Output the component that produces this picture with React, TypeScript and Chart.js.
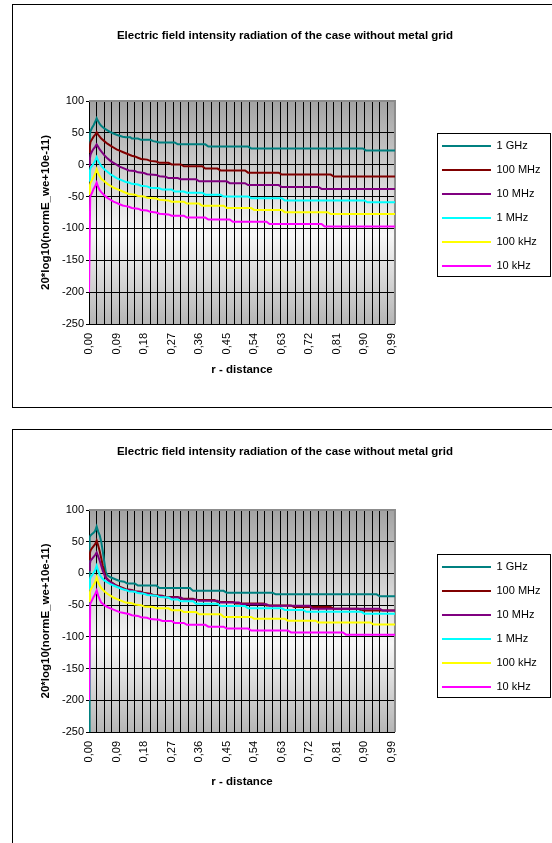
import React, { useEffect, useRef } from 'react';
import { Chart, registerables } from 'chart.js';

Chart.register(...registerables);

const FONT = '"Liberation Sans", Arial, Helvetica, sans-serif';

const chartTitle = 'Electric field intensity radiation of the case without metal grid';
const yTitle = '20*log10(normE_we+10e-11)';
const xTitle = 'r - distance';

const seriesLabels = ['1 GHz', '100 MHz', '10 MHz', '1 MHz', '100 kHz', '10 kHz'];
const seriesColors = ['#008080', '#800000', '#800080', '#00FFFF', '#FFFF00', '#FF00FF'];

const xLabelValues = [0, 0.09, 0.18, 0.27, 0.36, 0.45, 0.54, 0.63, 0.72, 0.81, 0.9, 0.99];
const xTickLabels = ['0,00', '0,09', '0,18', '0,27', '0,36', '0,45', '0,54', '0,63', '0,72', '0,81', '0,90', '0,99'];
const xGridStep = 0.025;
const yTickValues = [-250, -200, -150, -100, -50, 0, 50, 100];

type Pt = [number, number];

// ---- top chart ----
const top1GHz: Pt[] = [[0, 30], [0.003, 48], [0.005, 53], [0.01, 58], [0.015, 62], [0.02, 67], [0.025, 73], [0.03, 68], [0.035, 64], [0.04, 61], [0.05, 57], [0.06, 54], [0.07, 51], [0.08, 49], [0.09, 47], [0.1, 45.5], [0.11, 44], [0.12, 43], [0.135, 43], [0.14, 41], [0.16, 41], [0.17, 39], [0.2, 39], [0.21, 37], [0.22, 36], [0.23, 35], [0.28, 35], [0.29, 32], [0.38, 32], [0.39, 28.5], [0.52, 28.5], [0.53, 25.5], [0.895, 25.5], [0.905, 22.5], [1, 22.5]];
const top100MHz: Pt[] = [[0, 20], [0.003, 30], [0.005, 36], [0.01, 40], [0.015, 44], [0.02, 47], [0.025, 51], [0.03, 47], [0.035, 44], [0.04, 41], [0.05, 37], [0.06, 33], [0.07, 30], [0.08, 27], [0.09, 24], [0.1, 22], [0.11, 20], [0.12, 18], [0.13, 16], [0.14, 14], [0.15, 13], [0.16, 11], [0.17, 9], [0.19, 8], [0.2, 6], [0.22, 5], [0.23, 3], [0.26, 3], [0.27, 0.5], [0.3, 0.5], [0.31, -2.5], [0.37, -2.5], [0.38, -6], [0.42, -6], [0.43, -9], [0.51, -9], [0.52, -12.5], [0.62, -12.5], [0.63, -15.5], [0.79, -15.5], [0.8, -18.5], [1, -18.5]];
const top10MHz: Pt[] = [[0, -1], [0.003, 10], [0.005, 16], [0.01, 21], [0.015, 25], [0.02, 28], [0.025, 32], [0.03, 28], [0.035, 24], [0.04, 21], [0.05, 15], [0.06, 10], [0.07, 6], [0.08, 3], [0.09, 0], [0.1, -3], [0.11, -5], [0.12, -7], [0.13, -9], [0.15, -10], [0.16, -12], [0.18, -13], [0.19, -15], [0.22, -16], [0.23, -18], [0.25, -19], [0.26, -21], [0.29, -21], [0.3, -23], [0.35, -23], [0.36, -26], [0.45, -26], [0.46, -29], [0.51, -29], [0.52, -32], [0.62, -32], [0.63, -35], [0.75, -35], [0.76, -38], [1, -38]];
const top1MHz: Pt[] = [[0, -25], [0.003, -10], [0.005, -5], [0.01, -2], [0.015, 2], [0.02, 6], [0.025, 12], [0.03, 6], [0.035, 2], [0.04, -2], [0.05, -7], [0.06, -11], [0.07, -15], [0.08, -18], [0.09, -21], [0.1, -23], [0.11, -25], [0.12, -27], [0.13, -28], [0.14, -30], [0.16, -31], [0.17, -33], [0.19, -34], [0.2, -36], [0.23, -37], [0.24, -39], [0.27, -39], [0.28, -42], [0.31, -42], [0.32, -44], [0.37, -44], [0.38, -47], [0.43, -47], [0.44, -50], [0.52, -50], [0.53, -52.5], [0.63, -52.5], [0.64, -56], [0.9, -56], [0.91, -59], [1, -59]];
const top100kHz: Pt[] = [[0, -46], [0.003, -32], [0.005, -28], [0.01, -24], [0.015, -19], [0.02, -14], [0.025, -7], [0.03, -14], [0.035, -18], [0.04, -22], [0.05, -26], [0.06, -30], [0.07, -33], [0.08, -36], [0.09, -38], [0.1, -40], [0.11, -42], [0.12, -44], [0.13, -46], [0.15, -47], [0.16, -49], [0.18, -50], [0.19, -52], [0.22, -53], [0.23, -55], [0.26, -56], [0.27, -58], [0.31, -58], [0.32, -61], [0.36, -61], [0.37, -64.5], [0.44, -64.5], [0.45, -68], [0.53, -68], [0.54, -71], [0.63, -71], [0.64, -74.5], [0.78, -74.5], [0.79, -77.5], [1, -77.5]];
const top10kHz: Pt[] = [[0, -200], [0.004, -50], [0.01, -44], [0.015, -38], [0.02, -34], [0.025, -28], [0.03, -35], [0.035, -40], [0.04, -43], [0.05, -48], [0.06, -52], [0.07, -55], [0.08, -58], [0.09, -60], [0.1, -62], [0.11, -64], [0.12, -65], [0.13, -66], [0.14, -68], [0.16, -69], [0.17, -71], [0.19, -72], [0.2, -74], [0.22, -75], [0.23, -77], [0.26, -78], [0.27, -80], [0.31, -80], [0.32, -83], [0.38, -83], [0.39, -86], [0.46, -86], [0.47, -89.5], [0.58, -89.5], [0.59, -93], [0.76, -93], [0.77, -97], [1, -97]];

// ---- bottom chart ----
const bot1GHz: Pt[] = [[0, -260], [0.002, 57], [0.005, 60], [0.01, 62], [0.015, 64], [0.02, 67], [0.025, 74], [0.03, 66], [0.035, 60], [0.04, 50], [0.045, 35], [0.05, 18], [0.055, 2], [0.06, -3], [0.07, -6], [0.08, -8], [0.09, -10], [0.1, -12], [0.115, -13], [0.125, -16], [0.15, -16], [0.16, -19], [0.22, -19], [0.23, -23], [0.33, -23], [0.34, -27.5], [0.44, -27.5], [0.45, -30.5], [0.6, -30.5], [0.61, -33], [0.94, -33], [0.95, -36], [1, -36]];
const bot100MHz: Pt[] = [[0, 22], [0.003, 32], [0.005, 36], [0.01, 40], [0.015, 43], [0.02, 46], [0.025, 52], [0.03, 44], [0.035, 35], [0.04, 24], [0.045, 12], [0.05, 2], [0.055, -6], [0.06, -9], [0.07, -13], [0.08, -16], [0.09, -19], [0.1, -21], [0.11, -23], [0.12, -25], [0.14, -26], [0.15, -28], [0.17, -29], [0.18, -31], [0.2, -32], [0.21, -34], [0.24, -35], [0.25, -37], [0.29, -37], [0.3, -40], [0.34, -40], [0.35, -42], [0.41, -42], [0.42, -45], [0.47, -45], [0.48, -47.5], [0.57, -47.5], [0.58, -50.5], [0.66, -50.5], [0.67, -53], [0.79, -53], [0.8, -55.5], [0.88, -55.5], [0.89, -58.5], [1, -58.5]];
const bot10MHz: Pt[] = [[0, 5], [0.003, 15], [0.005, 20], [0.01, 23], [0.015, 26], [0.02, 29], [0.025, 33], [0.03, 27], [0.035, 20], [0.04, 12], [0.045, 4], [0.05, -2], [0.055, -7], [0.06, -10], [0.07, -14], [0.08, -17], [0.09, -20], [0.1, -22], [0.11, -24], [0.12, -26], [0.14, -27], [0.15, -29], [0.17, -30], [0.18, -32], [0.2, -33], [0.21, -35], [0.24, -36], [0.25, -38], [0.3, -38], [0.31, -41], [0.35, -41], [0.36, -43], [0.42, -43], [0.43, -46], [0.49, -46], [0.5, -48.5], [0.58, -48.5], [0.59, -51], [0.72, -51], [0.73, -55.5], [0.95, -55.5], [0.96, -58.5], [1, -58.5]];
const bot1MHz: Pt[] = [[0, -24], [0.003, -10], [0.005, -6], [0.01, -3], [0.015, 1], [0.02, 5], [0.025, 12], [0.03, 4], [0.035, -2], [0.04, -6], [0.045, -9], [0.05, -11], [0.06, -14], [0.07, -17], [0.08, -19], [0.09, -21], [0.1, -23], [0.11, -25], [0.12, -26], [0.13, -28], [0.15, -29], [0.16, -31], [0.18, -32], [0.19, -34], [0.22, -35], [0.23, -37], [0.26, -38], [0.27, -41], [0.29, -41], [0.3, -44], [0.34, -44], [0.35, -48], [0.42, -48], [0.43, -51.5], [0.51, -51.5], [0.52, -55], [0.63, -55], [0.64, -57.5], [0.7, -57.5], [0.71, -60.5], [0.89, -60.5], [0.9, -63.5], [1, -63.5]];
const bot100kHz: Pt[] = [[0, -44], [0.003, -30], [0.005, -26], [0.01, -22], [0.015, -18], [0.02, -14], [0.025, -6], [0.03, -14], [0.035, -19], [0.04, -23], [0.05, -28], [0.06, -32], [0.07, -35], [0.08, -38], [0.09, -40], [0.1, -42], [0.11, -44], [0.12, -46], [0.14, -47], [0.15, -49], [0.17, -50], [0.18, -52], [0.21, -53], [0.22, -55], [0.26, -55], [0.27, -58], [0.3, -58], [0.31, -61], [0.35, -61], [0.36, -64.5], [0.43, -64.5], [0.44, -68.5], [0.53, -68.5], [0.54, -71.5], [0.64, -71.5], [0.65, -74.5], [0.74, -74.5], [0.75, -77.5], [0.92, -77.5], [0.93, -80.5], [1, -80.5]];
const bot10kHz: Pt[] = [[0, -200], [0.004, -48], [0.01, -42], [0.015, -37], [0.02, -33], [0.025, -27], [0.03, -35], [0.035, -41], [0.04, -46], [0.05, -50], [0.06, -53], [0.07, -55], [0.08, -57], [0.09, -59], [0.1, -61], [0.11, -62], [0.13, -64], [0.14, -66], [0.16, -67], [0.17, -69], [0.19, -70], [0.2, -72], [0.23, -73], [0.24, -75], [0.27, -75], [0.28, -78], [0.31, -78], [0.32, -81], [0.38, -81], [0.39, -84], [0.44, -84], [0.45, -87], [0.52, -87], [0.53, -90], [0.65, -90], [0.66, -93], [0.83, -93], [0.84, -96.5], [1, -96.5]];

const topSeries = [top1GHz, top100MHz, top10MHz, top1MHz, top100kHz, top10kHz];
const bottomSeries = [bot1GHz, bot100MHz, bot10MHz, bot1MHz, bot100kHz, bot10kHz];

type Geom = {
  w: number; h: number; padR: number; padB: number;
  titlePadT: number; titlePadB: number; xAxisH: number; xTitlePadB: number;
};

const Y_AXIS_W = 76;
const TITLE_CENTER_X = 272;
const LEGEND_GAP = 34;

const topGeom: Geom = { w: 539, h: 402, padR: 35.5, padB: 0, titlePadT: 23.5, titlePadB: 58.7, xAxisH: 83, xTitlePadB: 30 };
const bottomGeom: Geom = { w: 539, h: 413, padR: 35.5, padB: 19, titlePadT: 15.1, titlePadB: 51.1, xAxisH: 92, xTitlePadB: 35.5 };

const LEG_PAD = 13;
const LEG_ITEM_H = 11;

const excelLook = {
  id: 'excelLook',
  beforeDraw(chart: any) {
    const { ctx, chartArea: a } = chart;
    const g = ctx.createLinearGradient(0, a.top, 0, a.bottom);
    g.addColorStop(0, '#a3a3a3');
    g.addColorStop(0.6, '#f7f7f7');
    g.addColorStop(1, '#b5b5b5');
    ctx.save();
    ctx.fillStyle = g;
    ctx.fillRect(a.left, a.top, a.right - a.left, a.bottom - a.top);
    ctx.restore();
  },
  beforeDatasetsDraw(chart: any) {
    const { ctx, chartArea: a } = chart;
    ctx.save();
    ctx.strokeStyle = '#8c8c8c';
    ctx.lineWidth = 2;
    ctx.beginPath();
    ctx.moveTo(a.left, a.top);
    ctx.lineTo(a.right, a.top);
    ctx.lineTo(a.right, a.bottom);
    ctx.stroke();
    ctx.restore();
  },
  afterLayout(chart: any) {
    const lg = chart.legend;
    if (lg) {
      const w = lg.right - lg.left;
      lg.left = chart.chartArea.right + LEGEND_GAP;
      lg.right = lg.left + w;
    }
    const tb = chart.titleBlock;
    if (tb) {
      const w = tb.right - tb.left;
      tb.left = TITLE_CENTER_X - w / 2;
      tb.right = tb.left + w;
    }
  },
  afterDraw(chart: any) {
    const lg = chart.legend;
    if (!lg) return;
    const n = chart.data.datasets.length;
    const colH = n * (LEG_ITEM_H + LEG_PAD);
    const y0 = (lg.top + LEG_PAD + lg.bottom - colH) / 2;
    const c0 = y0 + LEG_ITEM_H / 2;
    const top = Math.round(c0 - 13.5) + 0.5;
    const bottom = Math.round(c0 + (n - 1) * (LEG_ITEM_H + LEG_PAD) + 10) + 0.5;
    const left = Math.round(lg.left + LEG_PAD - 5) + 0.5;
    const ctx = chart.ctx;
    ctx.save();
    ctx.strokeStyle = '#000';
    ctx.lineWidth = 1;
    ctx.strokeRect(left, top, 113, bottom - top);
    ctx.restore();
  },
};

function buildXTicks() {
  const t: any[] = xLabelValues.map((v, i) => ({ value: v, txt: xTickLabels[i], isLabel: true }));
  const count = Math.round(1 / xGridStep);
  for (let k = 1; k < count; k++) t.push({ value: k * xGridStep, txt: '', isLabel: false });
  t.sort((a, b) => a.value - b.value);
  return t;
}

function makeConfig(series: Pt[][], g: Geom): any {
  return {
    type: 'line',
    data: {
      datasets: series.map((pts, i) => ({
        label: seriesLabels[i],
        data: pts.map(([x, y]) => ({ x, y })),
        borderColor: seriesColors[i],
        backgroundColor: seriesColors[i],
        borderWidth: 2,
        pointRadius: 0,
        tension: 0,
        fill: false,
        order: series.length - i,
      })),
    },
    options: {
      responsive: false,
      animation: false,
      events: [],
      layout: { padding: { left: 0, top: 0, right: g.padR, bottom: g.padB } },
      plugins: {
        title: {
          display: true,
          text: chartTitle,
          color: '#000',
          font: { family: FONT, size: 11.5, weight: 'bold' },
          padding: { top: g.titlePadT, bottom: g.titlePadB },
        },
        legend: {
          position: 'right',
          labels: {
            boxWidth: 49,
            boxHeight: 2,
            padding: LEG_PAD,
            color: '#000',
            font: { family: FONT, size: 11 },
            generateLabels: (chart: any) =>
              chart.data.datasets.map((d: any, i: number) => ({
                text: d.label,
                fillStyle: d.borderColor,
                strokeStyle: d.borderColor,
                lineWidth: 0,
                hidden: false,
                datasetIndex: i,
              })),
          },
        },
        tooltip: { enabled: false },
      },
      scales: {
        x: {
          type: 'linear',
          min: 0,
          max: 1,
          afterBuildTicks: (s: any) => { s.ticks = buildXTicks(); },
          afterFit: (s: any) => { s.height = g.xAxisH; },
          grid: {
            color: (c: any) => (c.tick && c.tick.isLabel ? 'rgba(0,0,0,0)' : '#000'),
            lineWidth: 1,
            drawTicks: false,
          },
          border: { display: true, color: '#000', width: 1 },
          ticks: {
            autoSkip: false,
            minRotation: 90,
            maxRotation: 90,
            padding: 9,
            color: '#000',
            font: { family: FONT, size: 11 },
            callback: (_v: any, i: number, ticks: any[]) => (ticks[i] && ticks[i].txt) || '',
          },
          title: {
            display: true,
            text: xTitle,
            color: '#000',
            font: { family: FONT, size: 11.5, weight: 'bold' },
            padding: { top: 0, bottom: g.xTitlePadB },
          },
        },
        y: {
          type: 'linear',
          min: -250,
          max: 100,
          afterBuildTicks: (s: any) => { s.ticks = yTickValues.map((v) => ({ value: v })); },
          afterFit: (s: any) => { s.width = Y_AXIS_W; },
          grid: {
            color: (c: any) => (c.tick && c.tick.value === 100 ? 'rgba(0,0,0,0)' : '#000'),
            tickColor: '#000',
            lineWidth: 1,
            drawTicks: true,
            tickLength: 3,
          },
          border: { display: true, color: '#000', width: 1 },
          ticks: {
            padding: 2,
            color: '#000',
            font: { family: FONT, size: 11 },
            callback: (v: any) => String(v),
          },
          title: {
            display: true,
            text: yTitle,
            color: '#000',
            font: { family: FONT, size: 11.5, weight: 'bold' },
            padding: { top: 25.5, bottom: 0 },
          },
        },
      },
    },
    plugins: [excelLook],
  };
}

function ExcelChart({ series, geom }: { series: Pt[][]; geom: Geom }) {
  const ref = useRef<HTMLCanvasElement>(null);
  useEffect(() => {
    if (!ref.current) return;
    const chart = new Chart(ref.current, makeConfig(series, geom));
    return () => chart.destroy();
  }, [series, geom]);
  return (
    <canvas
      ref={ref}
      width={geom.w}
      height={geom.h}
      style={{ position: 'absolute', left: 0, top: 0, width: geom.w, height: geom.h }}
    />
  );
}

export default function App() {
  return (
    <div style={{ position: 'absolute', left: 0, top: 0, width: 552, height: 843, overflow: 'hidden', background: '#fff' }}>
      <div style={{ position: 'absolute', left: 12, top: 4, width: 545, height: 404, boxSizing: 'border-box', border: '1px solid #000' }}>
        <ExcelChart series={topSeries} geom={topGeom} />
      </div>
      <div style={{ position: 'absolute', left: 12, top: 429, width: 545, height: 430, boxSizing: 'border-box', border: '1px solid #000' }}>
        <ExcelChart series={bottomSeries} geom={bottomGeom} />
      </div>
    </div>
  );
}
